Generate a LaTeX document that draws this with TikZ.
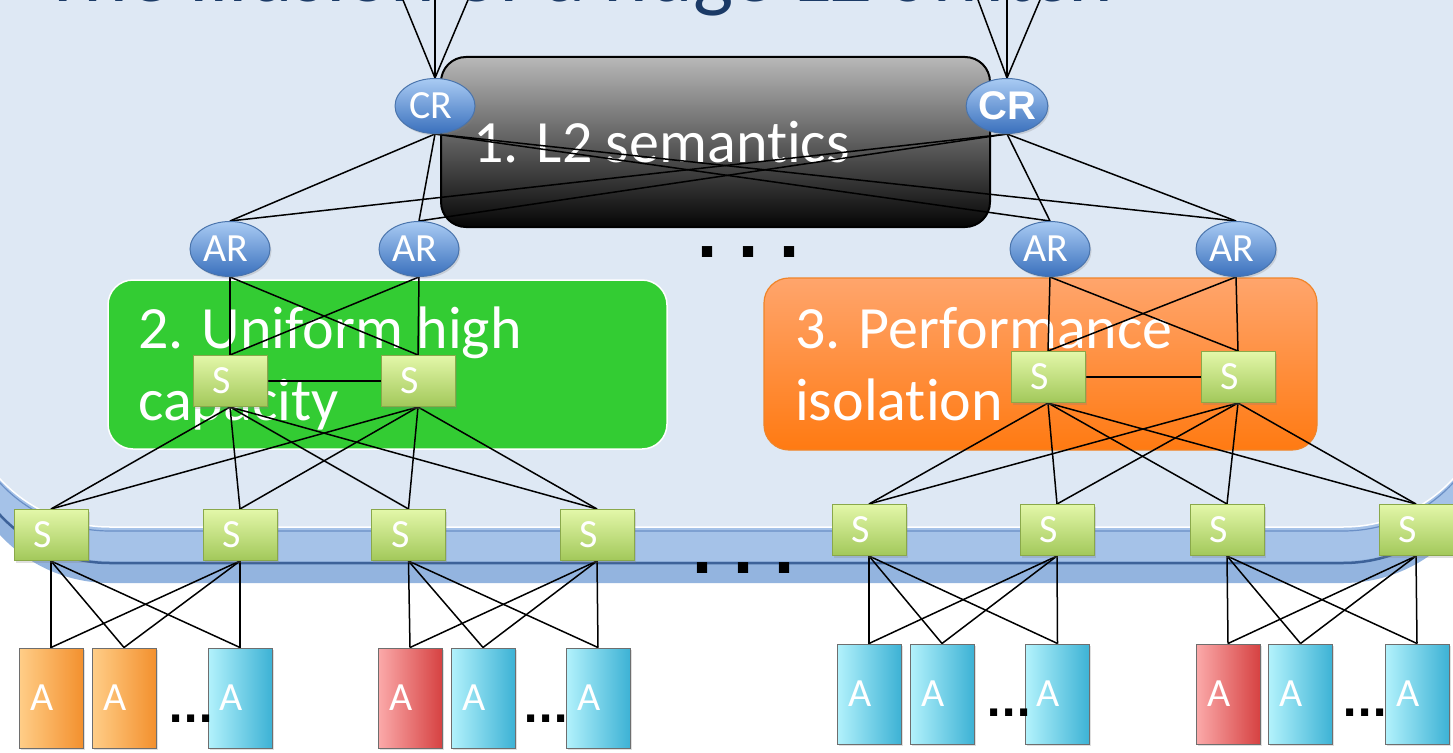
\documentclass[tikz,border=0pt]{standalone}
\usepackage{fontspec}
\setmainfont{Carlito}[Ligatures={NoCommon}]
\newfontfamily\arialf{Liberation Sans}
\newfontfamily\dotfont{DejaVu Sans}
\usetikzlibrary{shapes.geometric,shadows}
\pgfdeclarelayer{bg}
\pgfdeclarelayer{wires}
\pgfsetlayers{bg,wires,main}
\definecolor{facecol}{HTML}{DEE8F4}
\definecolor{bandup}{HTML}{A5C2E8}
\definecolor{bandlo}{HTML}{93B4DF}
\definecolor{bandline}{HTML}{3D6299}
\definecolor{bandline2}{HTML}{6A8FC6}
\definecolor{titleblue}{HTML}{1B3A66}
\definecolor{ellT}{HTML}{A9CBF4}
\definecolor{ellB}{HTML}{3A70BC}
\definecolor{ellD}{HTML}{4A74AC}
\definecolor{sT}{HTML}{E3F7A9}
\definecolor{sB}{HTML}{A2C85A}
\definecolor{sD}{HTML}{8AA84A}
\definecolor{cyL}{HTML}{B3F2FC}
\definecolor{cyR}{HTML}{3DB2D5}
\definecolor{orL}{HTML}{FFCE88}
\definecolor{orR}{HTML}{F3902E}
\definecolor{rdL}{HTML}{FBAAAA}
\definecolor{rdR}{HTML}{D64242}
\definecolor{aD}{HTML}{6E6E6E}
\definecolor{blkT}{HTML}{B8B8B8}
\definecolor{blkB}{HTML}{050505}
\definecolor{grn}{HTML}{33CC33}
\definecolor{orT}{HTML}{FFA56C}
\definecolor{orB}{HTML}{FF7A12}
\definecolor{orD}{HTML}{F08428}
\newcommand\offlab[2]{\makebox[0pt]{#2}\hspace*{#1}}
\newcommand\myfs[1]{\fontsize{#1}{#1}\selectfont}
\begin{document}
\begin{tikzpicture}[x=1pt,y=-1pt,
  link/.style={draw=black, line width=1.5pt},
  shad/.style={drop shadow={opacity=0.25, shadow xshift=1.5pt, shadow yshift=-2pt}},
  ell/.style={ellipse, minimum width=80pt, minimum height=55pt, inner sep=0pt,
    top color=ellT, bottom color=ellB, draw=ellD, line width=1pt, text=white,
    font=\myfs{40}, shad},
  sbox/.style={rectangle, minimum width=74pt, minimum height=51pt, inner sep=0pt,
    top color=sT, bottom color=sB, draw=sD, line width=1pt, text=white,
    font=\myfs{40}, shad},
  abox/.style={rectangle, minimum width=64pt, minimum height=100pt, inner sep=0pt,
    draw=aD, line width=1pt, text=white, font=\myfs{40}, shad},
  acy/.style={abox, left color=cyL, right color=cyR},
  aor/.style={abox, left color=orL, right color=orR},
  ard/.style={abox, left color=rdL, right color=rdR},
  bigbox/.style={rectangle, rounded corners=25pt, inner sep=0pt},
  boxtext/.style={anchor=base west, inner sep=0pt, text=white, font=\myfs{60}},
  bigdots/.style={anchor=base west, inner sep=0pt, font=\dotfont\bfseries\myfs{58}},
  smalldots/.style={anchor=base west, inner sep=0pt, font=\dotfont\bfseries\myfs{40}}
]
\useasboundingbox (0,0) rectangle (1453,752);
\begin{pgfonlayer}{bg}
\fill[white] (0,0) rectangle (1453,752);
\fill[bandlo, rounded corners=150pt] (-40,-200) rectangle (1493,583);
\fill[bandup, rounded corners=150pt] (-40,-200) rectangle (1493,561);
\draw[bandline, line width=2.5pt, rounded corners=150pt] (-40,-200) rectangle (1493,563);
\draw[bandline2, line width=1.2pt, rounded corners=150pt] (-40,-200) rectangle (1493,531);
\fill[facecol, rounded corners=150pt] (-40,-200) rectangle (1493,527);
\draw[white, line width=1.5pt, rounded corners=150pt] (-40,-200) rectangle (1493,527);
\node[anchor=base west, inner sep=0pt, text=titleblue, font=\myfs{85}] (title) at (42,2) {The illusion of a huge L2 switch};
\node[bigbox, minimum width=549pt, minimum height=170pt, top color=blkT, bottom color=blkB, draw=black, line width=2pt] (l2box) at (715.5,142) {};
\node[boxtext] (l2text) at (473,162) {1. L2 semantics};
\node[bigbox, minimum width=559pt, minimum height=169pt, fill=grn, draw=white, line width=1.5pt] (uhcbox) at (387.5,364.5) {};
\node[boxtext] (uhc1) at (138,348) {2. Uniform high};
\node[boxtext] (uhc2) at (138,420) {capacity};
\node[bigbox, minimum width=553pt, minimum height=172pt, top color=orT, bottom color=orB, draw=orD, line width=1.2pt] (pibox) at (1040.5,364) {};
\node[boxtext] (pi1) at (795,348) {3. Performance};
\node[boxtext] (pi2) at (795,420) {isolation};
\end{pgfonlayer}

% core routers
\node[ell] (CRl) at (435,106) {\offlab{8pt}{CR}};
\node[ell, font=\arialf\bfseries\myfs{40}] (CRr) at (1007,106) {CR};
% aggregation routers
\node[ell] (AR1) at (230,249) {\offlab{8pt}{AR}};
\node[ell] (AR2) at (419,249) {\offlab{8pt}{AR}};
\node[ell] (AR3) at (1050,249) {\offlab{8pt}{AR}};
\node[ell] (AR4) at (1236,249) {\offlab{8pt}{AR}};
% aggregation switches
\node[sbox] (Su1) at (230,381) {\offlab{16pt}{S}};
\node[sbox] (Su2) at (418,381) {\offlab{16pt}{S}};
\node[sbox] (Su3) at (1048,377) {\offlab{16pt}{S}};
\node[sbox] (Su4) at (1238,377) {\offlab{16pt}{S}};
% top-of-rack switches
\node[sbox] (S1) at (51,535) {\offlab{16pt}{S}};
\node[sbox] (S2) at (240,535) {\offlab{16pt}{S}};
\node[sbox] (S3) at (408.5,535) {\offlab{16pt}{S}};
\node[sbox] (S4) at (597,535) {\offlab{16pt}{S}};
\node[sbox] (S5) at (869,530) {\offlab{16pt}{S}};
\node[sbox] (S6) at (1057,530) {\offlab{16pt}{S}};
\node[sbox] (S7) at (1227,530) {\offlab{16pt}{S}};
\node[sbox] (S8) at (1416,530) {\offlab{16pt}{S}};
% applications
\node[aor] (A1) at (51,698) {\offlab{18pt}{A}};
\node[aor] (A2) at (124,698) {\offlab{18pt}{A}};
\node[acy] (A3) at (240,698) {\offlab{18pt}{A}};
\node[ard] (A4) at (410,698) {\offlab{18pt}{A}};
\node[acy] (A5) at (483,698) {\offlab{18pt}{A}};
\node[acy] (A6) at (598,698) {\offlab{18pt}{A}};
\node[acy] (A7) at (869,694) {\offlab{18pt}{A}};
\node[acy] (A8) at (942,694) {\offlab{18pt}{A}};
\node[acy] (A9) at (1057.5,694) {\offlab{18pt}{A}};
\node[ard] (A10) at (1228,694) {\offlab{18pt}{A}};
\node[acy] (A11) at (1300.5,694) {\offlab{18pt}{A}};
\node[acy] (A12) at (1417,694) {\offlab{18pt}{A}};
% free ends at the top
\coordinate (tl1) at (403,0);
\coordinate (tl2) at (435,0);
\coordinate (tl3) at (468,0);
\coordinate (tr1) at (978,0);
\coordinate (tr2) at (1007,0);
\coordinate (tr3) at (1040,0);
% dots
\node[bigdots] (dotsA) at (696,257) {.\hspace{19pt}.\hspace{19pt}.};
\node[bigdots] (dotsB) at (691,573) {.\hspace{19pt}.\hspace{19pt}.};
\node[smalldots] (dots1) at (168,722) {...};
\node[smalldots] (dots2) at (523,722) {...};
\node[smalldots] (dots3) at (986,716) {...};
\node[smalldots] (dots4) at (1342,716) {...};

\begin{pgfonlayer}{wires}
\foreach \t in {tl1,tl2,tl3} \draw[link] (CRl.north) -- (\t);
\foreach \t in {tr1,tr2,tr3} \draw[link] (CRr.north) -- (\t);
\foreach \a in {1,...,4} {
  \draw[link] (CRl.south) -- (AR\a.north);
  \draw[link] (CRr.south) -- (AR\a.north);
}
\foreach \r/\s in {AR1/Su1,AR1/Su2,AR2/Su1,AR2/Su2,AR3/Su3,AR3/Su4,AR4/Su3,AR4/Su4}
  \draw[link] (\r.south) -- (\s.north);
\draw[link] (Su1.east) -- (Su2.west);
\draw[link] (Su3.east) -- (Su4.west);
\foreach \u in {Su1,Su2} \foreach \s in {S1,S2,S3,S4} \draw[link] (\u.south) -- (\s.north);
\foreach \u in {Su3,Su4} \foreach \s in {S5,S6,S7,S8} \draw[link] (\u.south) -- (\s.north);
\foreach \s in {S1,S2} \foreach \a in {A1,A2,A3} \draw[link] (\s.south) -- (\a.north);
\foreach \s in {S3,S4} \foreach \a in {A4,A5,A6} \draw[link] (\s.south) -- (\a.north);
\foreach \s in {S5,S6} \foreach \a in {A7,A8,A9} \draw[link] (\s.south) -- (\a.north);
\foreach \s in {S7,S8} \foreach \a in {A10,A11,A12} \draw[link] (\s.south) -- (\a.north);
\end{pgfonlayer}
\end{tikzpicture}
\end{document}
